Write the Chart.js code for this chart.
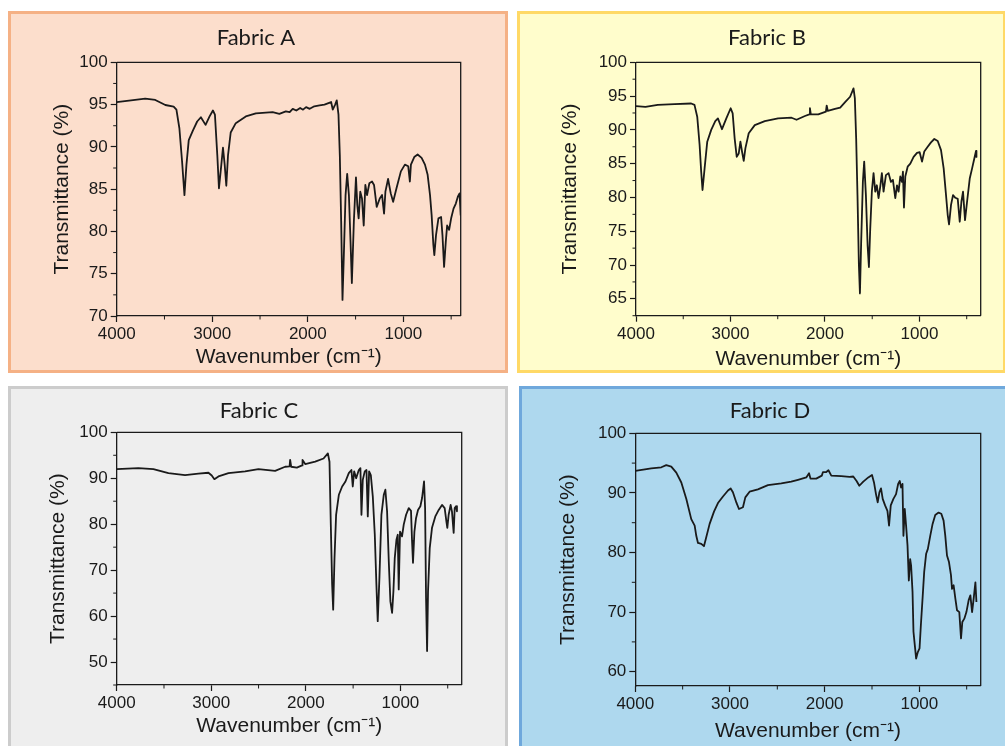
<!DOCTYPE html>
<html>
<head>
<meta charset="utf-8">
<script src="https://cdn.jsdelivr.net/npm/chart.js@4.4.1/dist/chart.umd.min.js"></script>
<style>
html, body { margin: 0; padding: 0; background: #fff; overflow: hidden; width: 1005px; height: 746px; }
.panel { position: absolute; box-sizing: border-box; border: 3px solid; overflow: hidden; }
.panel canvas { position: absolute; left: 0; top: 0; }
</style>
</head>
<body>
<div class="panel" style="left:8px;top:11px;width:500px;height:362px;background:#fcdecc;border-color:#f5b185">
  <canvas id="chartA" width="494" height="356"></canvas></div>
<div class="panel" style="left:517px;top:11px;width:489px;height:362px;background:#fffdcc;border-color:#ffd966">
  <canvas id="chartB" width="483" height="356"></canvas></div>
<div class="panel" style="left:8px;top:386px;width:500px;height:372px;background:#eeeeee;border-color:#cccccc">
  <canvas id="chartC" width="494" height="357"></canvas></div>
<div class="panel" style="left:519px;top:386px;width:500px;height:372px;background:#aed8ee;border-color:#6fa8dc">
  <canvas id="chartD" width="483" height="357"></canvas></div>
<script>
// --- data (wavenumber in cm-1, transmittance in %) ---
var wnA = [4000, 3850, 3702, 3596, 3491, 3404, 3375, 3344, 3316, 3291,
    3270, 3246, 3204, 3158, 3119, 3070, 3028, 2993, 2972, 2947,
    2930, 2905, 2888, 2870, 2853, 2835, 2807, 2754, 2649, 2544,
    2368, 2298, 2230, 2190, 2158, 2120, 2080, 2050, 2018, 1980,
    1932, 1877, 1826, 1756, 1739, 1714, 1697, 1679, 1665, 1651,
    1637, 1623, 1605, 1588, 1570, 1553, 1539, 1518, 1496, 1482,
    1468, 1451, 1433, 1415, 1398, 1380, 1356, 1328, 1307, 1279,
    1247, 1223, 1202, 1188, 1160, 1132, 1107, 1072, 1026, 984,
    949, 932, 921, 886, 851, 809, 774, 746, 721, 704,
    686, 676, 658, 633, 605, 591, 574, 556, 542, 521,
    500, 475, 451, 430, 412, 400];
var tA = [95.3, 95.5, 95.7, 95.55, 94.95, 94.76, 94.4, 92.2, 88.3, 84.3,
    87.9, 90.8, 91.9, 93.0, 93.5, 92.6, 93.6, 94.3, 93.8, 89.0,
    85.1, 87.9, 89.9, 87.9, 85.4, 89.0, 91.7, 92.8, 93.6, 93.97,
    94.1, 93.9, 94.2, 94.1, 94.5, 94.3, 94.6, 94.4, 94.7, 94.5,
    94.8, 94.9, 95.0, 95.3, 94.4, 95.0, 95.5, 93.8, 89.0, 81.2,
    71.9, 77.2, 84.3, 86.8, 84.3, 78.8, 73.9, 81.2, 86.4, 83.1,
    81.55, 84.7, 83.9, 80.7, 85.5, 84.3, 85.7, 85.9, 85.5, 82.9,
    83.9, 84.3, 82.1, 84.7, 86.2, 84.5, 83.5, 85.1, 87.1, 87.9,
    87.7, 85.9, 87.9, 88.8, 89.1, 88.7, 87.9, 86.7, 84.3, 81.9,
    78.4, 77.2, 79.6, 81.55, 81.7, 79.6, 75.8, 78.8, 80.7, 80.2,
    81.55, 82.7, 83.3, 84.1, 84.5, 81.9];

var wnB = [4000, 3900, 3770, 3593, 3416, 3381, 3352, 3327, 3310, 3296,
    3274, 3246, 3204, 3161, 3133, 3090, 3044, 2998, 2977, 2956,
    2934, 2913, 2895, 2878, 2860, 2842, 2807, 2743, 2637, 2496,
    2354, 2301, 2212, 2165, 2159, 2150, 2071, 1990, 1982, 1970,
    1894, 1839, 1787, 1734, 1698, 1684, 1670, 1656, 1641, 1630,
    1617, 1599, 1585, 1567, 1549, 1535, 1521, 1504, 1486, 1468,
    1451, 1433, 1415, 1398, 1380, 1355, 1327, 1302, 1281, 1256,
    1238, 1221, 1203, 1185, 1175, 1164, 1150, 1125, 1097, 1062,
    1026, 998, 973, 949, 913, 878, 843, 807, 772, 744,
    719, 701, 687, 666, 645, 620, 595, 574, 556, 539,
    518, 496, 468, 443, 419, 401, 397];
var tB = [93.5, 93.4, 93.7, 93.8, 93.9, 93.7, 91.95, 87.8, 83.8, 81.1,
    84.3, 88.25, 90.0, 91.3, 91.7, 90.1, 91.7, 93.2, 92.45, 88.75,
    86.0, 86.5, 88.25, 86.8, 85.4, 87.3, 89.5, 90.7, 91.3, 91.7,
    91.8, 91.5, 92.05, 92.3, 93.2, 92.3, 92.3, 92.7, 93.6, 92.8,
    93.1, 93.3, 94.1, 94.9, 96.15, 94.7, 88.75, 80.35, 69.98, 65.8,
    73.4, 82.3, 85.3, 80.35, 72.95, 69.7, 75.4, 80.85, 83.6, 80.85,
    81.8, 79.9, 81.6, 83.6, 80.85, 83.3, 83.6, 82.3, 82.6, 79.9,
    81.8, 80.85, 83.1, 82.3, 83.8, 78.5, 83.1, 84.55, 85.0, 86.0,
    86.6, 86.7, 85.3, 86.8, 87.5, 88.15, 88.65, 88.35, 87.0, 84.3,
    80.35, 77.4, 76.0, 78.9, 80.35, 79.95, 79.8, 76.4, 79.4, 80.85,
    76.65, 79.4, 82.8, 84.3, 85.8, 86.9, 86.0];

var wnC = [4000, 3771, 3612, 3453, 3277, 3136, 3030, 2995, 2967, 2924,
    2818, 2642, 2501, 2325, 2219, 2172, 2166, 2155, 2095, 2040,
    2035, 2007, 1901, 1813, 1767, 1750, 1736, 1722, 1711, 1697,
    1680, 1651, 1616, 1581, 1546, 1518, 1504, 1489, 1468, 1440,
    1423, 1412, 1398, 1377, 1359, 1345, 1331, 1313, 1292, 1271,
    1254, 1240, 1222, 1201, 1176, 1159, 1141, 1123, 1106, 1088,
    1074, 1060, 1042, 1028, 1018, 1004, 983, 965, 940, 912,
    888, 877, 867, 852, 835, 814, 789, 771, 750, 739,
    729, 718, 708, 690, 666, 631, 595, 560, 532, 514,
    504, 490, 469, 455, 437, 426, 412, 402];
var tC = [92.0, 92.2, 92.0, 91.1, 90.7, 91.0, 91.2, 90.6, 89.8, 90.4,
    91.1, 91.5, 92.0, 91.6, 92.5, 92.6, 94.0, 92.5, 92.3, 92.8,
    94.0, 93.1, 93.6, 94.3, 95.4, 93.6, 79.9, 66.9, 61.4, 72.6,
    82.05, 86.4, 88.2, 89.3, 91.1, 91.8, 88.2, 91.5, 90.0, 91.8,
    92.2, 82.05, 89.65, 91.5, 91.8, 81.7, 91.5, 90.7, 86.0, 77.7,
    66.9, 58.9, 68.3, 82.05, 86.4, 87.5, 82.8, 71.9, 63.2, 60.7,
    65.4, 72.6, 76.6, 77.7, 65.8, 78.4, 77.35, 79.9, 82.05, 83.5,
    82.9, 76.3, 71.6, 78.4, 81.3, 83.1, 83.9, 85.7, 89.3, 83.5,
    64.0, 52.4, 65.4, 74.8, 79.2, 81.7, 83.1, 84.2, 83.5, 80.6,
    79.2, 82.05, 84.2, 82.8, 78.1, 83.5, 83.9, 82.8];

var wnD = [4000, 3831, 3725, 3673, 3620, 3567, 3514, 3461, 3409, 3373,
    3356, 3338, 3303, 3275, 3250, 3215, 3169, 3127, 3074, 3021,
    2993, 2969, 2933, 2905, 2863, 2838, 2793, 2705, 2599, 2458,
    2353, 2282, 2194, 2165, 2150, 2089, 2030, 2018, 1983, 1960,
    1930, 1825, 1737, 1698, 1663, 1634, 1592, 1539, 1500, 1479,
    1458, 1440, 1422, 1405, 1387, 1362, 1337, 1320, 1302, 1274,
    1246, 1224, 1207, 1193, 1178, 1168, 1154, 1140, 1125, 1111,
    1097, 1087, 1072, 1062, 1048, 1034, 1016, 998, 984, 966,
    949, 928, 910, 885, 860, 832, 797, 768, 744, 726,
    708, 687, 666, 655, 638, 620, 602, 578, 560, 546,
    525, 503, 479, 461, 443, 426, 408, 397];
var tD = [93.7, 94.1, 94.3, 94.65, 94.4, 93.4, 91.75, 88.97, 85.6, 84.5,
    82.8, 81.6, 81.45, 81.06, 82.6, 84.8, 86.85, 88.3, 89.4, 90.4,
    90.75, 90.1, 88.4, 87.3, 87.6, 89.25, 90.2, 90.6, 91.3, 91.6,
    91.9, 92.2, 92.6, 93.3, 92.4, 92.4, 92.9, 93.5, 93.5, 93.8,
    92.9, 92.8, 92.7, 92.75, 92.0, 91.2, 91.9, 92.6, 93.0, 91.75,
    89.8, 88.4, 90.1, 90.75, 89.0, 87.9, 87.0, 84.5, 87.9, 89.0,
    89.8, 91.5, 92.0, 90.9, 91.5, 82.8, 87.3, 84.5, 81.2, 75.3,
    78.9, 77.8, 73.4, 66.7, 64.45, 62.2, 63.3, 63.9, 67.8, 72.3,
    76.7, 79.8, 80.6, 82.8, 84.8, 86.3, 86.7, 86.5, 85.35, 82.8,
    79.5, 78.4, 76.2, 73.9, 74.5, 72.3, 70.3, 70.0, 65.6, 68.35,
    68.9, 70.0, 72.0, 72.8, 70.0, 72.3, 75.0, 71.7];

// tick labels
var xTicks = [4000, 3000, 2000, 1000];
var xMinor = [3500, 2500, 1500, 500];
var yTicksAB = [65, 70, 75, 80, 85, 90, 95, 100];
var yMinorAB = [62.5, 67.5, 72.5, 77.5, 82.5, 87.5, 92.5, 97.5];
var yTicksCD = [50, 60, 70, 80, 90, 100];
var yMinorCD = [45, 55, 65, 75, 85, 95];

var INK = '#1a1a1a';
var SANS = "'Liberation Sans', Arial, sans-serif";

// box round the plot + the short minor ticks
var frameMinor = {
    id: 'frameMinor',
    afterDraw: function(chart, args, o) {
        var ctx = chart.ctx, a = chart.chartArea;
        var x = chart.scales.x, y = chart.scales.y;
        ctx.save();
        ctx.strokeStyle = INK;
        ctx.lineWidth = 1.3;
        ctx.beginPath();
        ctx.moveTo(a.left, a.top);
        ctx.lineTo(a.right, a.top);
        ctx.lineTo(a.right, a.bottom);
        ctx.stroke();
        ctx.lineWidth = 1;
        ctx.beginPath();
        o.xMinor.forEach(function(v) {
            var px = x.getPixelForValue(v);
            ctx.moveTo(px, a.bottom);
            ctx.lineTo(px, a.bottom + 3.5);
        });
        o.yMinor.forEach(function(v) {
            if (v < y.min || v > y.max) return;
            var py = y.getPixelForValue(v);
            ctx.moveTo(a.left, py);
            ctx.lineTo(a.left - 3.5, py);
        });
        ctx.stroke();
        ctx.restore();
    }
};

function makeChart(id, title, wn, tr, s) {
    var pts = wn.map(function(w, i) { return {x: w, y: tr[i]}; });
    return new Chart(document.getElementById(id), {
        type: 'line',
        data: {
            datasets: [{
                data: pts,
                borderColor: INK,
                borderWidth: 1.8,
                borderJoinStyle: 'round',
                pointRadius: 0,
                tension: 0,
                fill: false
            }]
        },
        plugins: [frameMinor],
        options: {
            responsive: false,
            animation: false,
            events: [],
            layout: { padding: s.pad },
            plugins: {
                legend: { display: false },
                tooltip: { enabled: false },
                title: {
                    display: true,
                    text: title,
                    color: INK,
                    font: { family: 'Lato', size: 22, weight: 'normal', lineHeight: 1.2 },
                    padding: { top: 0, bottom: s.titleGap }
                },
                frameMinor: { xMinor: xMinor, yMinor: s.yMinor }
            },
            scales: {
                x: {
                    type: 'linear',
                    reverse: true,
                    min: s.xmin,
                    max: 4000,
                    afterBuildTicks: function(sc) { sc.ticks = xTicks.map(function(v) { return {value: v}; }); },
                    afterFit: function(sc) { sc.height = s.xh; },
                    grid: { drawOnChartArea: false, drawTicks: true, tickLength: 6, tickColor: INK, tickWidth: 1.2 },
                    border: { display: true, color: INK, width: 1.3 },
                    ticks: {
                        color: INK, padding: 2, maxRotation: 0,
                        font: { family: SANS, size: 17 },
                        callback: function(v) { return String(v); }
                    },
                    title: {
                        display: true,
                        text: 'Wavenumber (cm\u207B\u00B9)',
                        color: INK,
                        font: { family: SANS, size: 21, lineHeight: 1 },
                        padding: { top: 0, bottom: s.xtPad }
                    }
                },
                y: {
                    min: s.ymin,
                    max: 100,
                    afterBuildTicks: function(sc) { sc.ticks = s.yTicks.map(function(v) { return {value: v}; }); },
                    afterFit: function(sc) { sc.width = s.yw; },
                    grid: { drawOnChartArea: false, drawTicks: true, tickLength: 6, tickColor: INK, tickWidth: 1.2 },
                    border: { display: true, color: INK, width: 1.3 },
                    ticks: {
                        color: INK, padding: 3,
                        font: { family: SANS, size: 17 },
                        callback: function(v) { return String(v); }
                    },
                    title: {
                        display: true,
                        text: 'Transmittance (%)',
                        color: INK,
                        font: { family: SANS, size: 21, lineHeight: 1 },
                        padding: { top: s.ytPad, bottom: 0 }
                    }
                }
            }
        }
    });
}

makeChart('chartA', 'Fabric A', wnA, tA, {
    xmin: 400, ymin: 70, yTicks: yTicksAB.filter(function(v) { return v >= 70; }), yMinor: yMinorAB,
    pad: { left: 40.3, right: 44.3, top: 10.8, bottom: 0 }, titleGap: 11.1,
    yw: 65.4, xh: 54, ytPad: 0.6, xtPad: 1.8
});
makeChart('chartB', 'Fabric B', wnB, tB, {
    xmin: 352, ymin: 62.5, yTicks: yTicksAB, yMinor: yMinorAB,
    pad: { left: 33.3, right: 22.3, top: 10.8, bottom: 0 }, titleGap: 11.1,
    yw: 82.7, xh: 54.3, ytPad: 6.2, xtPad: 0.1
});
makeChart('chartC', 'Fabric C', wnC, tC, {
    xmin: 352, ymin: 45, yTicks: yTicksCD, yMinor: yMinorCD,
    pad: { left: 45.3, right: 43.3, top: 8.3, bottom: 0 }, titleGap: 8.6,
    yw: 60.4, xh: 61, ytPad: -8.5, xtPad: 9.5
});
makeChart('chartD', 'Fabric D', wnD, tD, {
    xmin: 352, ymin: 57.6, yTicks: yTicksCD.filter(function(v) { return v >= 60; }), yMinor: yMinorCD,
    pad: { left: 37.3, right: 24.3, top: 8.6, bottom: 0 }, titleGap: 9.3,
    yw: 76, xh: 60, ytPad: -1.5, xtPad: 4.5
});
</script>
</body>
</html>
